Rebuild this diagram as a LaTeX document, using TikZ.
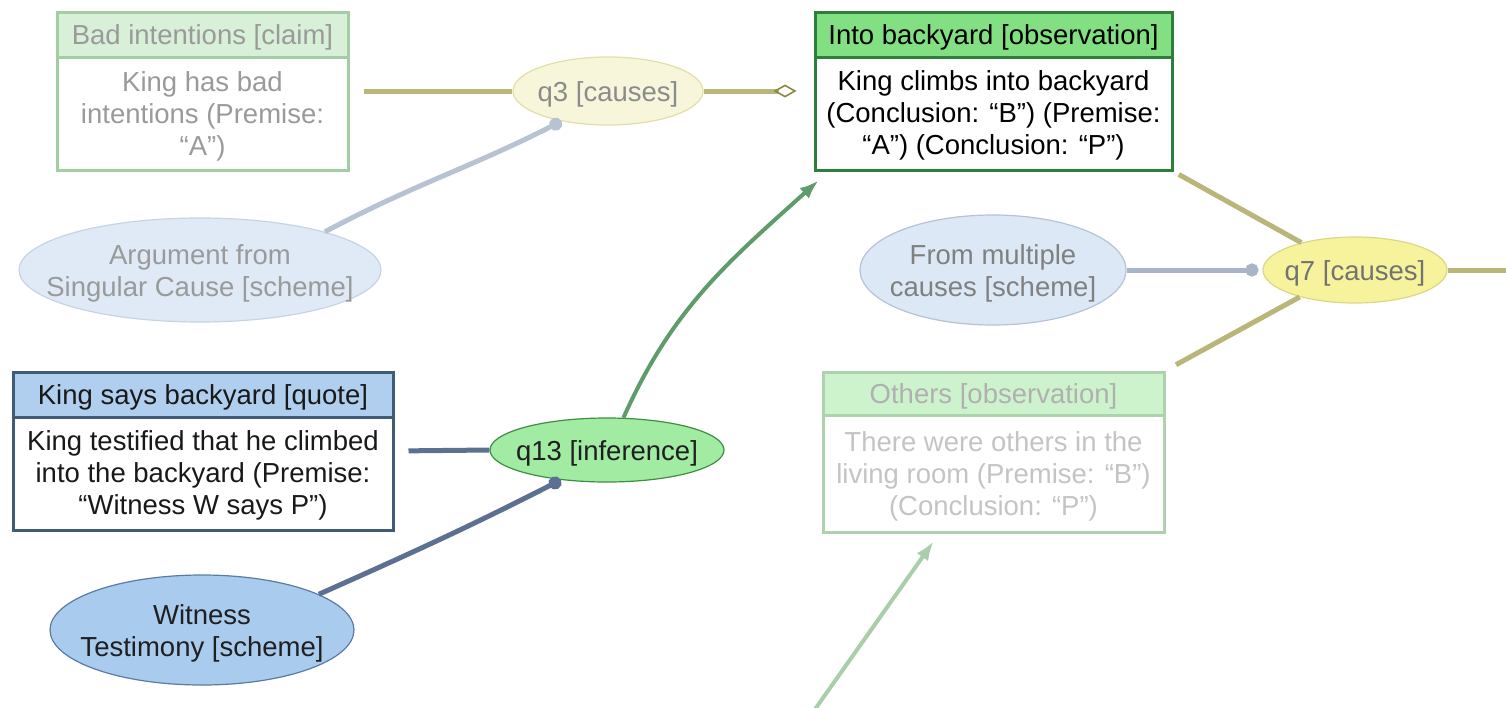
\documentclass[tikz,border=0pt]{standalone}
\usepackage{fontspec}
\setmainfont{Liberation Sans}
\usetikzlibrary{arrows.meta,shapes.geometric}

% card colours
\definecolor{badedge}{HTML}{A3CDA3}
\definecolor{badhead}{HTML}{D8F0D8}
\definecolor{fadetext}{HTML}{9A9A9A}
\definecolor{intoedge}{HTML}{2F7F3C}
\definecolor{intohead}{HTML}{82E082}
\definecolor{kingedge}{HTML}{3E5B78}
\definecolor{kinghead}{HTML}{B0CFEE}
\definecolor{othedge}{HTML}{AED2AE}
\definecolor{othhead}{HTML}{CDF3CD}
\definecolor{othtext}{HTML}{C4C4C4}
% bubble colours
\definecolor{qthreefill}{HTML}{F8F6DA}
\definecolor{qthreeedge}{HTML}{E2DEA8}
\definecolor{qsevenfill}{HTML}{F7F39C}
\definecolor{qsevenedge}{HTML}{DCD784}
\definecolor{qthirteenfill}{HTML}{A2EBA2}
\definecolor{qthirteenedge}{HTML}{3E8E40}
\definecolor{argfill}{HTML}{DFEAF6}
\definecolor{argedge}{HTML}{C6D4E4}
\definecolor{multifill}{HTML}{DCE8F5}
\definecolor{multiedge}{HTML}{B4C3D6}
\definecolor{witfill}{HTML}{A9CBEE}
\definecolor{witedge}{HTML}{5B7BA5}
% connector colours
\definecolor{oliveln}{HTML}{BAB578}
\definecolor{olivedark}{HTML}{8C8844}
\definecolor{paleblueln}{HTML}{B7C3D3}
\definecolor{blueln}{HTML}{A9B5C6}
\definecolor{navyln}{HTML}{5C7192}
\definecolor{greenln}{HTML}{5F9B6B}
\definecolor{palegreenln}{HTML}{AACEAA}

\begin{document}
\begin{tikzpicture}[x=1pt,y=-1pt,
  txt/.style={font=\fontsize{27.5}{32}\selectfont, align=center, inner sep=0pt, text depth=0pt},
  card/.style={draw, line width=3pt, rectangle, inner sep=0pt, fill=white},
  cardhead/.style={card, txt, anchor=north},
  bubble/.style={ellipse, draw, line width=1.2pt, inner sep=0pt},
  link/.style={line width=5pt},
  dotend/.style={-{Circle[length=13pt]}},
]
\useasboundingbox (0,0) rectangle (1506,707);

% ---------- claim cards ----------
\node[card, draw=badedge, minimum width=291pt, minimum height=158pt] (bad) at (202.5,91) {};
\node[cardhead, draw=badedge, fill=badhead, text=fadetext, minimum width=291pt, minimum height=45pt] (badh) at (bad.north) {Bad intentions [claim]};
\node[txt, text=fadetext] (badb) at (202.5,114) {King has bad\\intentions (Premise:\\“A”)};

\node[card, draw=intoedge, minimum width=357pt, minimum height=158pt] (into) at (993.5,91) {};
\node[cardhead, draw=intoedge, fill=intohead, text=black, minimum width=357pt, minimum height=45pt] (intoh) at (into.north) {Into backyard [observation]};
\node[txt, text=black] (intob) at (993.5,113) {King climbs into backyard\\(Conclusion: “B”) (Premise:\\“A”) (Conclusion: “P”)};

\node[card, draw=kingedge, minimum width=380pt, minimum height=158pt] (king) at (203,451) {};
\node[cardhead, draw=kingedge, fill=kinghead, text=black!90, minimum width=380pt, minimum height=45pt] (kingh) at (king.north) {King says backyard [quote]};
\node[txt, text=black!90] (kingb) at (203,473) {King testified that he climbed\\into the backyard (Premise:\\“Witness W says P”)};

\node[card, draw=othedge, minimum width=341pt, minimum height=160pt] (oth) at (993.5,452) {};
\node[cardhead, draw=othedge, fill=othhead, text=othtext!90!black, minimum width=341pt, minimum height=43pt] (othh) at (oth.north) {Others [observation]};
\node[txt, text=othtext] (othb) at (993.5,474) {There were others in the\\living room (Premise: “B”)\\(Conclusion: “P”)};

% ---------- bubbles ----------
\node[bubble, draw=qthreeedge, fill=qthreefill, minimum width=190pt, minimum height=68pt] (q3) at (608,91) {};
\node[txt, text=fadetext!90!black] at ([yshift=-1pt]q3.center) {q3 [causes]};

\node[bubble, draw=qsevenedge, fill=qsevenfill, minimum width=184pt, minimum height=66pt] (q7) at (1355,270) {};
\node[txt, text=black!55] at ([yshift=-1pt]q7.center) {q7 [causes]};

\node[bubble, draw=qthirteenedge, fill=qthirteenfill, minimum width=234pt, minimum height=64pt] (q13) at (607,450) {};
\node[txt, text=black!88] at ([yshift=-1pt]q13.center) {q13 [inference]};

\node[bubble, draw=argedge, fill=argfill, minimum width=362pt, minimum height=104pt] (arg) at (200,270) {};
\node[txt, text=fadetext] at ([yshift=-1pt]arg.center) {Argument from\\Singular Cause [scheme]};

\node[bubble, draw=multiedge, fill=multifill, minimum width=266pt, minimum height=110pt] (multi) at (993,270) {};
\node[txt, text=black!50] at ([yshift=-1pt]multi.center) {From multiple\\causes [scheme]};

\node[bubble, draw=witedge, fill=witfill, minimum width=304pt, minimum height=110pt] (wit) at (202,630) {};
\node[txt, text=black!88] at ([yshift=-1pt]wit.center) {Witness\\Testimony [scheme]};

% ---------- connectors ----------
\draw[link, oliveln, shorten <=14pt] (bad.east) -- (q3.west);
\draw[link, oliveln, shorten >=17pt, -{Diamond[open, length=23pt, width=13pt, line width=1.6pt, color=olivedark]}] (q3.east) -- (into.west);
\draw[link, paleblueln, dotend] (arg.17) to[out=28, in=207] (q3.213);

\draw[link, navyln, shorten <=14pt] (king.east) -- (q13.west);
\draw[link, navyln, dotend] (wit.17) to[out=24, in=207] (q13.213);
\draw[line width=4pt, greenln, -{Latex[length=19pt, width=14pt]}] (q13.63) to[out=66, in=222] ([xshift=5pt, yshift=-9pt]into.south west);

\draw[link, oliveln, shorten <=6pt] (into.south east) -- (q7.153);
\draw[link, oliveln, shorten >=12pt] (q7.206) -- (oth.north east);
\coordinate (q7out) at (1520,270);
\draw[link, oliveln] (q7.east) -- (q7out);
\draw[link, blueln, dotend, shorten >=4pt] (multi.east) -- (q7.west);

\coordinate (othsrc) at (806,722);
\draw[line width=4pt, palegreenln, -{Latex[length=19pt, width=14pt]}] (othsrc) -- ([xshift=-60pt, yshift=-8pt]oth.south);
\end{tikzpicture}
\end{document}
